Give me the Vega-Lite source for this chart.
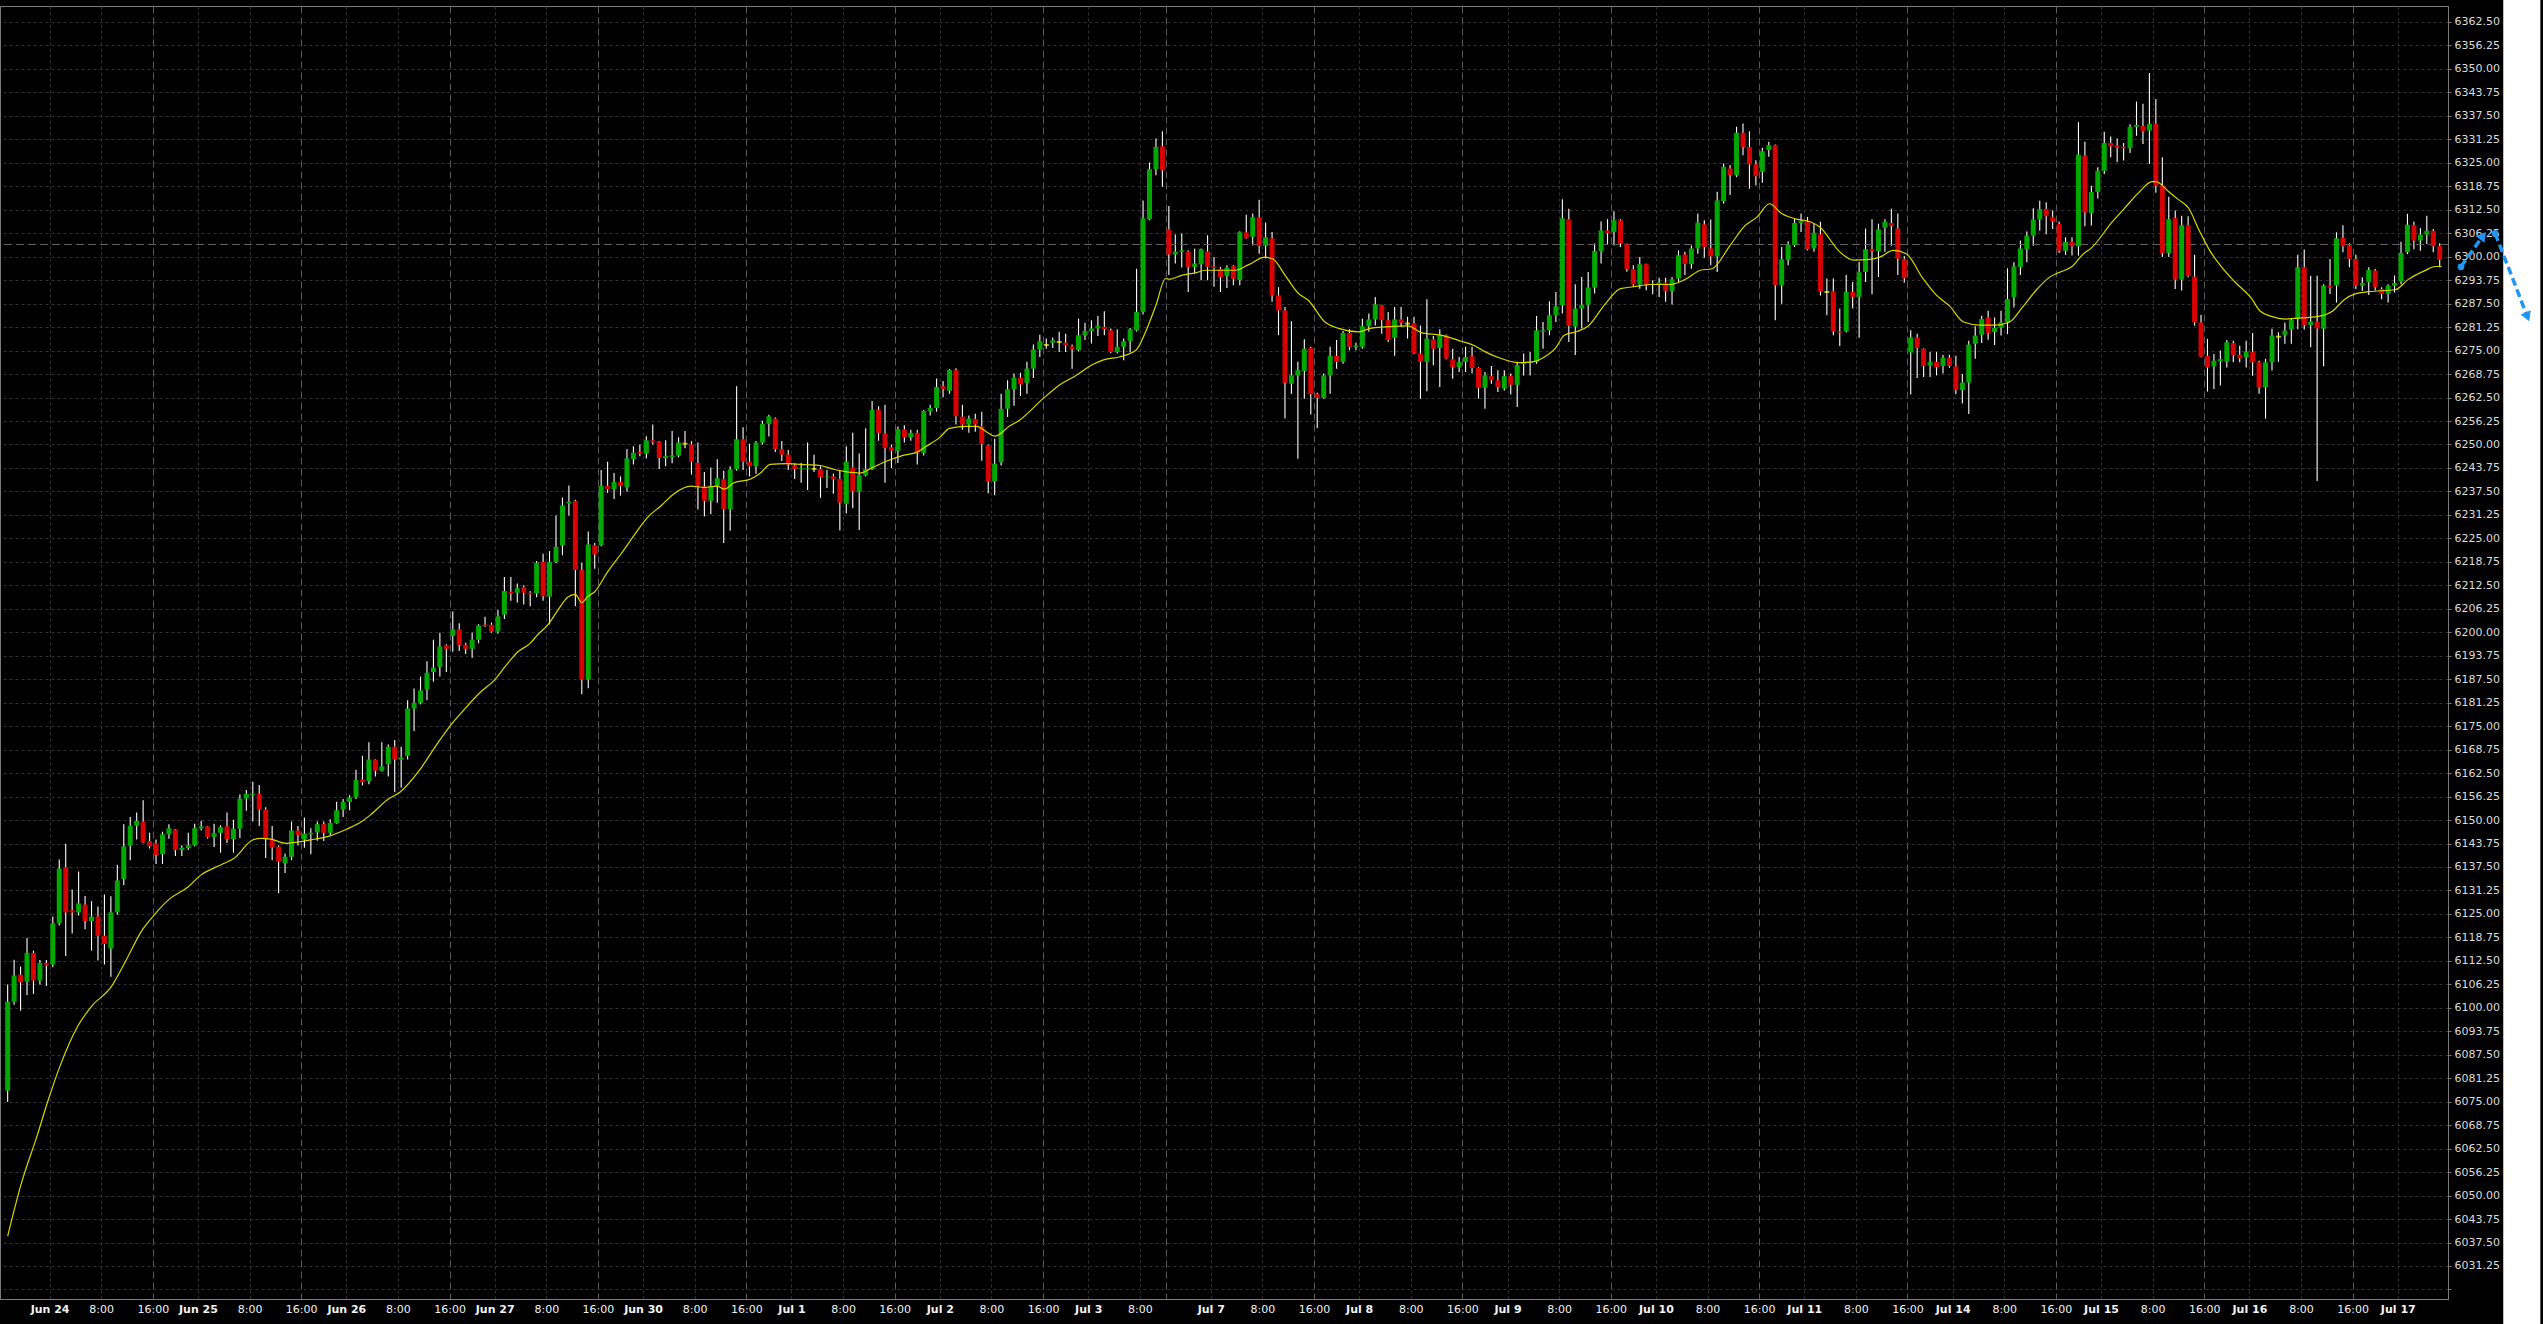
{
"$schema":"https://vega.github.io/schema/vega-lite/v6.json",
"width":2448,"height":1293,
"autosize":{"type":"none"},
"padding":{"left":0,"top":6,"right":95,"bottom":25},
"background":"#000000",
"config":{"view":{"stroke":"#7c7c7c","strokeWidth":1,"fill":"#000000"},"axis":{"labelOverlap":false}},
"datasets":{
"candles":[
{"i":0,"o":6077.9,"h":6106.2,"l":6074.9,"c":6101.6},{"i":1,"o":6101.6,"h":6112.8,"l":6100.8,"c":6108.6},{"i":2,"o":6108.8,"h":6111.0,"l":6099.2,"c":6106.8},{"i":3,"o":6107.0,"h":6118.6,"l":6103.4,"c":6114.6},{"i":4,"o":6114.6,"h":6115.2,"l":6103.7,"c":6107.3},{"i":5,"o":6107.3,"h":6112.7,"l":6106.2,"c":6111.9},{"i":6,"o":6111.9,"h":6112.7,"l":6105.8,"c":6111.3},{"i":7,"o":6111.5,"h":6124.3,"l":6110.8,"c":6122.5},{"i":8,"o":6122.5,"h":6139.5,"l":6121.9,"c":6137.1},{"i":9,"o":6137.4,"h":6143.7,"l":6113.8,"c":6125.4},
{"i":10,"o":6126.0,"h":6131.5,"l":6119.8,"c":6125.4},{"i":11,"o":6125.4,"h":6136.3,"l":6124.6,"c":6127.8},{"i":12,"o":6127.5,"h":6129.8,"l":6120.9,"c":6123.1},{"i":13,"o":6123.1,"h":6128.4,"l":6115.2,"c":6124.3},{"i":14,"o":6124.3,"h":6127.0,"l":6112.6,"c":6119.2},{"i":15,"o":6119.2,"h":6130.2,"l":6111.5,"c":6117.0},{"i":16,"o":6115.8,"h":6129.7,"l":6108.3,"c":6125.4},{"i":17,"o":6125.4,"h":6138.1,"l":6124.8,"c":6133.9},{"i":18,"o":6134.3,"h":6148.9,"l":6132.7,"c":6143.0},{"i":19,"o":6143.2,"h":6150.8,"l":6139.3,"c":6148.5},
{"i":20,"o":6148.5,"h":6152.0,"l":6144.8,"c":6149.8},{"i":21,"o":6149.6,"h":6155.3,"l":6143.8,"c":6144.0},{"i":22,"o":6144.4,"h":6146.6,"l":6142.4,"c":6143.0},{"i":23,"o":6143.8,"h":6144.8,"l":6138.3,"c":6140.7},{"i":24,"o":6140.9,"h":6146.9,"l":6138.3,"c":6146.2},{"i":25,"o":6146.2,"h":6148.9,"l":6145.0,"c":6147.8},{"i":26,"o":6147.5,"h":6147.6,"l":6140.4,"c":6142.0},{"i":27,"o":6142.0,"h":6143.3,"l":6140.4,"c":6142.6},{"i":28,"o":6142.5,"h":6146.6,"l":6142.0,"c":6143.3},{"i":29,"o":6143.3,"h":6149.0,"l":6143.0,"c":6147.8},
{"i":30,"o":6147.8,"h":6149.8,"l":6147.2,"c":6148.3},{"i":31,"o":6148.3,"h":6148.4,"l":6145.1,"c":6145.4},{"i":32,"o":6145.5,"h":6149.0,"l":6142.8,"c":6146.5},{"i":33,"o":6146.6,"h":6148.6,"l":6141.3,"c":6148.1},{"i":34,"o":6148.3,"h":6152.0,"l":6143.9,"c":6144.9},{"i":35,"o":6144.9,"h":6150.1,"l":6141.3,"c":6147.7},{"i":36,"o":6147.7,"h":6156.8,"l":6145.2,"c":6155.7},{"i":37,"o":6155.7,"h":6158.0,"l":6152.5,"c":6157.0},{"i":38,"o":6156.7,"h":6160.2,"l":6149.6,"c":6157.0},{"i":39,"o":6157.0,"h":6159.3,"l":6148.4,"c":6152.8},
{"i":40,"o":6152.8,"h":6153.4,"l":6139.9,"c":6145.0},{"i":41,"o":6145.0,"h":6148.4,"l":6139.3,"c":6142.7},{"i":42,"o":6142.9,"h":6143.3,"l":6130.5,"c":6138.9},{"i":43,"o":6138.5,"h":6141.1,"l":6135.9,"c":6140.2},{"i":44,"o":6140.2,"h":6149.6,"l":6139.3,"c":6147.2},{"i":45,"o":6147.2,"h":6148.4,"l":6143.2,"c":6146.0},{"i":46,"o":6144.8,"h":6150.7,"l":6142.6,"c":6146.4},{"i":47,"o":6146.2,"h":6147.8,"l":6140.9,"c":6146.6},{"i":48,"o":6146.7,"h":6149.6,"l":6144.5,"c":6148.9},{"i":49,"o":6148.9,"h":6149.6,"l":6144.4,"c":6146.6},
{"i":50,"o":6146.6,"h":6150.2,"l":6146.0,"c":6149.2},{"i":51,"o":6149.2,"h":6154.9,"l":6149.0,"c":6152.6},{"i":52,"o":6152.8,"h":6155.6,"l":6150.8,"c":6154.8},{"i":53,"o":6154.8,"h":6156.6,"l":6152.6,"c":6156.0},{"i":54,"o":6156.1,"h":6163.4,"l":6155.6,"c":6160.7},{"i":55,"o":6160.8,"h":6167.1,"l":6159.2,"c":6160.1},{"i":56,"o":6160.4,"h":6170.7,"l":6159.5,"c":6166.1},{"i":57,"o":6166.1,"h":6166.2,"l":6161.6,"c":6163.1},{"i":58,"o":6163.1,"h":6170.7,"l":6162.9,"c":6164.3},{"i":59,"o":6164.9,"h":6170.1,"l":6161.6,"c":6169.5},
{"i":60,"o":6169.5,"h":6171.3,"l":6157.4,"c":6166.1},{"i":61,"o":6166.1,"h":6169.5,"l":6158.6,"c":6166.6},{"i":62,"o":6167.1,"h":6181.9,"l":6166.1,"c":6179.7},{"i":63,"o":6179.7,"h":6185.0,"l":6173.7,"c":6181.2},{"i":64,"o":6181.2,"h":6188.2,"l":6180.8,"c":6184.5},{"i":65,"o":6184.8,"h":6192.3,"l":6181.9,"c":6189.2},{"i":66,"o":6189.4,"h":6198.0,"l":6186.9,"c":6190.6},{"i":67,"o":6190.8,"h":6199.9,"l":6188.2,"c":6196.2},{"i":68,"o":6196.5,"h":6196.8,"l":6189.4,"c":6195.6},{"i":69,"o":6199.0,"h":6205.5,"l":6194.8,"c":6200.8},
{"i":70,"o":6200.8,"h":6202.4,"l":6195.0,"c":6196.6},{"i":71,"o":6196.7,"h":6197.2,"l":6194.2,"c":6195.6},{"i":72,"o":6195.6,"h":6199.9,"l":6193.2,"c":6198.0},{"i":73,"o":6198.0,"h":6202.1,"l":6197.1,"c":6201.8},{"i":74,"o":6202.0,"h":6204.1,"l":6201.4,"c":6201.6},{"i":75,"o":6202.0,"h":6202.6,"l":6199.9,"c":6200.2},{"i":76,"o":6200.2,"h":6205.9,"l":6199.6,"c":6204.2},{"i":77,"o":6204.7,"h":6214.7,"l":6203.5,"c":6211.0},{"i":78,"o":6210.8,"h":6214.7,"l":6208.4,"c":6210.3},{"i":79,"o":6210.5,"h":6213.0,"l":6207.9,"c":6211.7},
{"i":80,"o":6212.0,"h":6212.5,"l":6207.4,"c":6210.5},{"i":81,"o":6210.5,"h":6211.0,"l":6206.9,"c":6210.1},{"i":82,"o":6210.3,"h":6219.0,"l":6209.3,"c":6218.5},{"i":83,"o":6218.7,"h":6220.9,"l":6208.4,"c":6209.6},{"i":84,"o":6209.5,"h":6221.6,"l":6202.1,"c":6218.7},{"i":85,"o":6218.7,"h":6231.1,"l":6218.4,"c":6222.7},{"i":86,"o":6223.1,"h":6235.9,"l":6220.5,"c":6233.8},{"i":87,"o":6234.3,"h":6239.1,"l":6231.1,"c":6234.8},{"i":88,"o":6235.0,"h":6235.3,"l":6206.9,"c":6216.6},{"i":89,"o":6216.6,"h":6218.5,"l":6183.5,"c":6187.4},
{"i":90,"o":6187.4,"h":6226.8,"l":6185.1,"c":6223.4},{"i":91,"o":6223.2,"h":6223.8,"l":6216.9,"c":6220.7},{"i":92,"o":6223.2,"h":6243.2,"l":6222.9,"c":6239.0},{"i":93,"o":6239.0,"h":6245.4,"l":6237.1,"c":6238.1},{"i":94,"o":6238.1,"h":6242.4,"l":6235.5,"c":6240.0},{"i":95,"o":6240.0,"h":6241.5,"l":6236.4,"c":6239.0},{"i":96,"o":6238.6,"h":6248.8,"l":6237.4,"c":6246.3},{"i":97,"o":6246.1,"h":6249.5,"l":6244.7,"c":6247.8},{"i":98,"o":6248.0,"h":6250.0,"l":6246.9,"c":6247.6},{"i":99,"o":6247.6,"h":6252.2,"l":6246.3,"c":6251.1},
{"i":100,"o":6251.1,"h":6255.3,"l":6250.0,"c":6250.6},{"i":101,"o":6250.8,"h":6250.9,"l":6243.5,"c":6246.4},{"i":102,"o":6246.4,"h":6251.1,"l":6244.2,"c":6246.9},{"i":103,"o":6246.6,"h":6253.6,"l":6245.0,"c":6247.1},{"i":104,"o":6247.1,"h":6251.9,"l":6246.6,"c":6250.5},{"i":105,"o":6250.2,"h":6253.6,"l":6249.0,"c":6250.2},{"i":106,"o":6250.0,"h":6250.9,"l":6242.0,"c":6245.4},{"i":107,"o":6245.1,"h":6250.5,"l":6232.7,"c":6239.0},{"i":108,"o":6238.8,"h":6242.7,"l":6230.8,"c":6235.0},{"i":109,"o":6235.0,"h":6243.9,"l":6231.4,"c":6239.0},
{"i":110,"o":6239.0,"h":6246.1,"l":6234.5,"c":6241.0},{"i":111,"o":6240.8,"h":6243.0,"l":6223.8,"c":6232.8},{"i":112,"o":6232.8,"h":6244.2,"l":6227.0,"c":6243.4},{"i":113,"o":6243.4,"h":6265.5,"l":6243.0,"c":6251.4},{"i":114,"o":6251.4,"h":6254.6,"l":6243.2,"c":6245.4},{"i":115,"o":6245.4,"h":6250.2,"l":6241.5,"c":6244.2},{"i":116,"o":6244.2,"h":6250.9,"l":6242.2,"c":6250.5},{"i":117,"o":6250.5,"h":6256.3,"l":6250.0,"c":6255.5},{"i":118,"o":6255.5,"h":6257.9,"l":6252.1,"c":6257.5},{"i":119,"o":6256.9,"h":6257.2,"l":6248.0,"c":6248.8},
{"i":120,"o":6248.8,"h":6250.9,"l":6245.6,"c":6247.3},{"i":121,"o":6247.3,"h":6248.5,"l":6243.2,"c":6244.7},{"i":122,"o":6244.4,"h":6245.0,"l":6240.8,"c":6243.5},{"i":123,"o":6243.4,"h":6245.1,"l":6239.8,"c":6243.7},{"i":124,"o":6243.4,"h":6250.5,"l":6237.9,"c":6243.7},{"i":125,"o":6243.5,"h":6247.3,"l":6242.7,"c":6243.5},{"i":126,"o":6243.5,"h":6244.2,"l":6235.8,"c":6241.3},{"i":127,"o":6241.3,"h":6243.2,"l":6238.4,"c":6241.5},{"i":128,"o":6241.5,"h":6242.2,"l":6236.9,"c":6240.8},{"i":129,"o":6240.8,"h":6243.2,"l":6227.1,"c":6234.5},
{"i":130,"o":6234.2,"h":6249.5,"l":6231.6,"c":6245.4},{"i":131,"o":6243.9,"h":6253.1,"l":6233.0,"c":6237.6},{"i":132,"o":6237.4,"h":6247.6,"l":6227.2,"c":6241.8},{"i":133,"o":6241.8,"h":6254.3,"l":6241.5,"c":6243.4},{"i":134,"o":6243.4,"h":6261.6,"l":6243.2,"c":6259.2},{"i":135,"o":6259.2,"h":6260.2,"l":6251.0,"c":6253.1},{"i":136,"o":6252.9,"h":6260.6,"l":6239.8,"c":6249.0},{"i":137,"o":6249.3,"h":6250.0,"l":6243.7,"c":6248.3},{"i":138,"o":6248.3,"h":6254.8,"l":6245.1,"c":6254.1},{"i":139,"o":6254.0,"h":6255.1,"l":6250.5,"c":6251.9},
{"i":140,"o":6251.9,"h":6253.9,"l":6251.0,"c":6253.1},{"i":141,"o":6253.1,"h":6253.9,"l":6244.7,"c":6247.8},{"i":142,"o":6247.8,"h":6259.2,"l":6247.1,"c":6258.9},{"i":143,"o":6258.9,"h":6260.6,"l":6257.7,"c":6259.7},{"i":144,"o":6259.7,"h":6267.6,"l":6258.7,"c":6265.3},{"i":145,"o":6265.5,"h":6266.9,"l":6262.6,"c":6264.8},{"i":146,"o":6264.3,"h":6270.1,"l":6263.5,"c":6269.8},{"i":147,"o":6269.8,"h":6270.3,"l":6255.3,"c":6257.5},{"i":148,"o":6257.4,"h":6260.6,"l":6253.9,"c":6255.3},{"i":149,"o":6255.3,"h":6257.7,"l":6253.1,"c":6256.9},
{"i":150,"o":6256.8,"h":6258.2,"l":6253.4,"c":6255.3},{"i":151,"o":6254.8,"h":6258.7,"l":6245.7,"c":6250.1},{"i":152,"o":6249.8,"h":6250.0,"l":6237.0,"c":6240.2},{"i":153,"o":6240.2,"h":6251.5,"l":6236.5,"c":6244.9},{"i":154,"o":6245.3,"h":6263.5,"l":6244.4,"c":6259.5},{"i":155,"o":6259.5,"h":6267.1,"l":6257.3,"c":6264.7},{"i":156,"o":6264.7,"h":6268.9,"l":6260.3,"c":6267.8},{"i":157,"o":6267.8,"h":6269.1,"l":6262.9,"c":6266.0},{"i":158,"o":6266.4,"h":6272.0,"l":6263.5,"c":6270.2},{"i":159,"o":6270.2,"h":6276.6,"l":6267.7,"c":6275.3},
{"i":160,"o":6275.3,"h":6279.2,"l":6273.3,"c":6277.5},{"i":161,"o":6276.5,"h":6278.2,"l":6275.5,"c":6276.5},{"i":162,"o":6277.1,"h":6278.5,"l":6275.7,"c":6277.7},{"i":163,"o":6277.3,"h":6280.0,"l":6274.6,"c":6277.3},{"i":164,"o":6277.1,"h":6279.5,"l":6274.6,"c":6276.4},{"i":165,"o":6276.1,"h":6276.6,"l":6270.2,"c":6275.4},{"i":166,"o":6275.1,"h":6283.5,"l":6274.8,"c":6279.1},{"i":167,"o":6279.1,"h":6282.4,"l":6277.8,"c":6280.2},{"i":168,"o":6280.2,"h":6283.1,"l":6276.9,"c":6280.9},{"i":169,"o":6280.9,"h":6284.2,"l":6278.9,"c":6281.6},
{"i":170,"o":6281.3,"h":6285.5,"l":6279.1,"c":6280.7},{"i":171,"o":6280.4,"h":6280.9,"l":6274.3,"c":6274.6},{"i":172,"o":6274.6,"h":6280.7,"l":6274.2,"c":6276.0},{"i":173,"o":6276.0,"h":6278.2,"l":6272.4,"c":6277.5},{"i":174,"o":6277.5,"h":6281.0,"l":6274.5,"c":6280.7},{"i":175,"o":6280.4,"h":6296.8,"l":6280.1,"c":6285.3},{"i":176,"o":6285.3,"h":6315.0,"l":6284.6,"c":6310.2},{"i":177,"o":6310.0,"h":6325.1,"l":6309.7,"c":6323.3},{"i":178,"o":6323.3,"h":6331.5,"l":6321.7,"c":6329.2},{"i":179,"o":6329.4,"h":6333.4,"l":6318.6,"c":6323.0},
{"i":180,"o":6307.3,"h":6313.5,"l":6295.1,"c":6300.6},{"i":181,"o":6300.6,"h":6305.9,"l":6298.2,"c":6301.3},{"i":182,"o":6301.3,"h":6306.2,"l":6297.1,"c":6301.7},{"i":183,"o":6301.4,"h":6301.7,"l":6290.6,"c":6297.3},{"i":184,"o":6297.3,"h":6302.1,"l":6295.5,"c":6298.2},{"i":185,"o":6298.0,"h":6302.2,"l":6293.7,"c":6302.0},{"i":186,"o":6301.4,"h":6305.7,"l":6293.7,"c":6297.3},{"i":187,"o":6297.4,"h":6299.9,"l":6292.0,"c":6297.0},{"i":188,"o":6296.8,"h":6297.3,"l":6290.6,"c":6294.6},{"i":189,"o":6294.9,"h":6297.7,"l":6291.7,"c":6297.1},
{"i":190,"o":6297.5,"h":6297.7,"l":6292.4,"c":6294.1},{"i":191,"o":6293.8,"h":6306.8,"l":6292.4,"c":6306.5},{"i":192,"o":6306.5,"h":6311.2,"l":6304.8,"c":6304.9},{"i":193,"o":6305.3,"h":6311.5,"l":6303.0,"c":6310.5},{"i":194,"o":6310.5,"h":6315.2,"l":6300.8,"c":6302.9},{"i":195,"o":6302.9,"h":6309.1,"l":6299.5,"c":6305.2},{"i":196,"o":6304.9,"h":6306.6,"l":6288.0,"c":6289.7},{"i":197,"o":6289.7,"h":6291.9,"l":6279.1,"c":6285.7},{"i":198,"o":6285.7,"h":6286.6,"l":6256.9,"c":6266.4},{"i":199,"o":6266.2,"h":6282.8,"l":6263.5,"c":6268.4},
{"i":200,"o":6268.4,"h":6272.0,"l":6246.2,"c":6269.8},{"i":201,"o":6269.6,"h":6278.0,"l":6262.2,"c":6275.5},{"i":202,"o":6275.7,"h":6276.0,"l":6258.0,"c":6263.4},{"i":203,"o":6263.4,"h":6263.8,"l":6254.4,"c":6262.4},{"i":204,"o":6262.4,"h":6268.9,"l":6262.2,"c":6268.4},{"i":205,"o":6268.4,"h":6276.0,"l":6263.5,"c":6273.6},{"i":206,"o":6273.6,"h":6277.8,"l":6270.2,"c":6272.0},{"i":207,"o":6272.0,"h":6280.2,"l":6271.5,"c":6279.7},{"i":208,"o":6279.7,"h":6280.7,"l":6275.1,"c":6276.0},{"i":209,"o":6276.0,"h":6277.1,"l":6275.1,"c":6276.4},
{"i":210,"o":6276.0,"h":6283.5,"l":6275.5,"c":6281.5},{"i":211,"o":6281.5,"h":6284.9,"l":6280.0,"c":6283.3},{"i":212,"o":6283.3,"h":6289.3,"l":6281.7,"c":6287.3},{"i":213,"o":6287.1,"h":6287.2,"l":6279.5,"c":6283.1},{"i":214,"o":6283.1,"h":6285.3,"l":6277.3,"c":6277.8},{"i":215,"o":6278.4,"h":6286.6,"l":6273.6,"c":6283.3},{"i":216,"o":6283.3,"h":6286.6,"l":6281.3,"c":6282.4},{"i":217,"o":6282.2,"h":6284.0,"l":6278.2,"c":6282.2},{"i":218,"o":6282.3,"h":6284.0,"l":6274.0,"c":6274.2},{"i":219,"o":6274.2,"h":6281.7,"l":6262.2,"c":6272.0},
{"i":220,"o":6272.0,"h":6288.7,"l":6264.2,"c":6278.2},{"i":221,"o":6278.0,"h":6278.9,"l":6271.1,"c":6275.5},{"i":222,"o":6275.7,"h":6280.7,"l":6265.3,"c":6279.1},{"i":223,"o":6279.1,"h":6279.3,"l":6272.7,"c":6272.9},{"i":224,"o":6272.7,"h":6275.5,"l":6267.5,"c":6270.6},{"i":225,"o":6270.6,"h":6273.3,"l":6269.3,"c":6272.0},{"i":226,"o":6272.0,"h":6276.0,"l":6269.3,"c":6273.3},{"i":227,"o":6273.5,"h":6276.0,"l":6268.9,"c":6270.4},{"i":228,"o":6270.4,"h":6270.6,"l":6262.2,"c":6265.1},{"i":229,"o":6265.1,"h":6269.3,"l":6259.5,"c":6268.4},
{"i":230,"o":6268.2,"h":6270.9,"l":6266.2,"c":6267.1},{"i":231,"o":6267.1,"h":6269.8,"l":6264.0,"c":6265.3},{"i":232,"o":6264.9,"h":6269.8,"l":6264.4,"c":6268.2},{"i":233,"o":6268.2,"h":6268.9,"l":6263.3,"c":6265.9},{"i":234,"o":6265.9,"h":6272.0,"l":6260.0,"c":6271.1},{"i":235,"o":6271.4,"h":6274.2,"l":6268.4,"c":6271.8},{"i":236,"o":6271.7,"h":6274.6,"l":6268.4,"c":6272.0},{"i":237,"o":6272.0,"h":6284.2,"l":6271.5,"c":6280.4},{"i":238,"o":6280.0,"h":6282.6,"l":6275.5,"c":6280.4},{"i":239,"o":6280.4,"h":6288.1,"l":6279.1,"c":6284.4},
{"i":240,"o":6284.4,"h":6290.6,"l":6282.6,"c":6286.8},{"i":241,"o":6287.1,"h":6315.3,"l":6284.9,"c":6310.2},{"i":242,"o":6310.0,"h":6312.8,"l":6277.3,"c":6281.6},{"i":243,"o":6281.4,"h":6292.7,"l":6273.8,"c":6286.2},{"i":244,"o":6286.2,"h":6294.6,"l":6280.9,"c":6287.2},{"i":245,"o":6287.2,"h":6295.9,"l":6282.6,"c":6291.8},{"i":246,"o":6291.8,"h":6303.5,"l":6290.2,"c":6301.5},{"i":247,"o":6301.5,"h":6309.4,"l":6298.2,"c":6307.0},{"i":248,"o":6307.0,"h":6310.0,"l":6303.1,"c":6306.3},{"i":249,"o":6306.6,"h":6312.1,"l":6303.0,"c":6309.7},
{"i":250,"o":6309.7,"h":6310.0,"l":6302.6,"c":6303.5},{"i":251,"o":6303.3,"h":6303.5,"l":6296.0,"c":6296.7},{"i":252,"o":6296.7,"h":6297.7,"l":6292.0,"c":6292.6},{"i":253,"o":6292.6,"h":6299.9,"l":6291.5,"c":6298.0},{"i":254,"o":6298.0,"h":6298.1,"l":6291.1,"c":6292.6},{"i":255,"o":6292.8,"h":6293.7,"l":6290.0,"c":6292.6},{"i":256,"o":6292.6,"h":6294.4,"l":6289.3,"c":6293.1},{"i":257,"o":6293.1,"h":6294.4,"l":6288.0,"c":6290.9},{"i":258,"o":6290.9,"h":6294.6,"l":6287.3,"c":6294.0},{"i":259,"o":6294.2,"h":6301.7,"l":6293.3,"c":6300.4},
{"i":260,"o":6300.6,"h":6301.3,"l":6295.1,"c":6298.0},{"i":261,"o":6298.0,"h":6303.0,"l":6296.8,"c":6302.2},{"i":262,"o":6302.2,"h":6311.5,"l":6300.8,"c":6309.1},{"i":263,"o":6308.6,"h":6309.7,"l":6299.7,"c":6302.6},{"i":264,"o":6302.2,"h":6309.9,"l":6297.7,"c":6300.1},{"i":265,"o":6300.1,"h":6317.3,"l":6295.9,"c":6315.0},{"i":266,"o":6314.8,"h":6324.8,"l":6314.1,"c":6323.9},{"i":267,"o":6323.5,"h":6324.4,"l":6316.4,"c":6321.7},{"i":268,"o":6321.7,"h":6334.6,"l":6321.2,"c":6333.0},{"i":269,"o":6333.0,"h":6335.5,"l":6327.0,"c":6329.2},
{"i":270,"o":6329.2,"h":6333.4,"l":6318.1,"c":6324.6},{"i":271,"o":6324.6,"h":6325.7,"l":6319.0,"c":6321.4},{"i":272,"o":6322.6,"h":6329.0,"l":6319.7,"c":6328.1},{"i":273,"o":6328.4,"h":6330.6,"l":6326.6,"c":6329.7},{"i":274,"o":6329.7,"h":6329.9,"l":6283.1,"c":6292.4},{"i":275,"o":6292.4,"h":6302.6,"l":6287.5,"c":6299.3},{"i":276,"o":6299.1,"h":6304.1,"l":6297.7,"c":6303.2},{"i":277,"o":6303.2,"h":6310.2,"l":6302.6,"c":6309.0},{"i":278,"o":6309.0,"h":6311.5,"l":6306.6,"c":6309.5},{"i":279,"o":6309.3,"h":6310.6,"l":6301.7,"c":6302.0},
{"i":280,"o":6302.2,"h":6308.8,"l":6301.3,"c":6306.4},{"i":281,"o":6306.0,"h":6309.3,"l":6289.7,"c":6290.8},{"i":282,"o":6290.6,"h":6294.2,"l":6284.4,"c":6290.6},{"i":283,"o":6290.8,"h":6294.2,"l":6279.1,"c":6280.1},{"i":284,"o":6280.1,"h":6286.2,"l":6276.2,"c":6279.8},{"i":285,"o":6280.1,"h":6295.1,"l":6279.8,"c":6290.6},{"i":286,"o":6290.6,"h":6293.3,"l":6286.2,"c":6289.3},{"i":287,"o":6289.3,"h":6298.6,"l":6278.4,"c":6295.8},{"i":288,"o":6295.9,"h":6307.5,"l":6293.3,"c":6302.0},{"i":289,"o":6302.0,"h":6310.0,"l":6290.0,"c":6301.5},
{"i":290,"o":6301.5,"h":6308.8,"l":6294.6,"c":6307.3},{"i":291,"o":6307.7,"h":6310.0,"l":6301.3,"c":6309.3},{"i":292,"o":6309.0,"h":6312.8,"l":6302.9,"c":6308.2},{"i":293,"o":6307.5,"h":6311.5,"l":6295.1,"c":6299.5},{"i":294,"o":6299.3,"h":6300.2,"l":6293.1,"c":6294.3},{"i":295,"o":6274.5,"h":6280.4,"l":6263.3,"c":6278.5},{"i":296,"o":6278.5,"h":6279.5,"l":6267.7,"c":6275.7},{"i":297,"o":6275.5,"h":6275.6,"l":6268.0,"c":6270.9},{"i":298,"o":6271.0,"h":6274.6,"l":6268.0,"c":6272.0},{"i":299,"o":6272.0,"h":6274.6,"l":6268.4,"c":6270.6},
{"i":300,"o":6270.9,"h":6273.8,"l":6268.9,"c":6273.1},{"i":301,"o":6273.1,"h":6273.9,"l":6270.4,"c":6270.9},{"i":302,"o":6270.8,"h":6273.6,"l":6263.4,"c":6264.5},{"i":303,"o":6264.5,"h":6268.8,"l":6260.9,"c":6266.5},{"i":304,"o":6266.5,"h":6277.6,"l":6258.1,"c":6276.6},{"i":305,"o":6276.8,"h":6281.5,"l":6272.8,"c":6279.0},{"i":306,"o":6279.2,"h":6284.3,"l":6277.0,"c":6283.4},{"i":307,"o":6283.8,"h":6285.6,"l":6277.9,"c":6279.7},{"i":308,"o":6279.9,"h":6283.8,"l":6276.5,"c":6281.1},{"i":309,"o":6281.1,"h":6285.6,"l":6279.0,"c":6282.5},
{"i":310,"o":6282.5,"h":6296.9,"l":6279.4,"c":6288.7},{"i":311,"o":6289.2,"h":6298.5,"l":6286.5,"c":6297.4},{"i":312,"o":6297.2,"h":6304.3,"l":6295.1,"c":6302.2},{"i":313,"o":6302.0,"h":6306.7,"l":6298.5,"c":6305.6},{"i":314,"o":6305.6,"h":6312.9,"l":6302.9,"c":6309.9},{"i":315,"o":6309.9,"h":6314.9,"l":6306.9,"c":6312.7},{"i":316,"o":6312.7,"h":6314.5,"l":6306.0,"c":6310.8},{"i":317,"o":6310.6,"h":6312.3,"l":6307.4,"c":6309.4},{"i":318,"o":6308.7,"h":6309.4,"l":6301.0,"c":6301.6},{"i":319,"o":6301.6,"h":6305.2,"l":6300.5,"c":6304.0},
{"i":320,"o":6304.0,"h":6305.2,"l":6300.3,"c":6302.8},{"i":321,"o":6302.8,"h":6335.8,"l":6300.3,"c":6327.2},{"i":322,"o":6326.9,"h":6330.6,"l":6308.1,"c":6311.8},{"i":323,"o":6311.6,"h":6318.9,"l":6308.3,"c":6317.2},{"i":324,"o":6317.2,"h":6323.8,"l":6315.5,"c":6322.9},{"i":325,"o":6322.9,"h":6333.3,"l":6322.0,"c":6330.3},{"i":326,"o":6330.3,"h":6332.0,"l":6326.5,"c":6329.4},{"i":327,"o":6329.6,"h":6331.5,"l":6325.2,"c":6329.1},{"i":328,"o":6329.3,"h":6330.3,"l":6325.6,"c":6328.9},{"i":329,"o":6328.9,"h":6335.3,"l":6327.6,"c":6334.6},
{"i":330,"o":6334.6,"h":6341.3,"l":6332.2,"c":6335.1},{"i":331,"o":6334.8,"h":6340.7,"l":6330.0,"c":6333.4},{"i":332,"o":6333.6,"h":6348.9,"l":6324.7,"c":6335.4},{"i":333,"o":6335.4,"h":6342.0,"l":6317.0,"c":6318.9},{"i":334,"o":6318.9,"h":6326.5,"l":6299.9,"c":6301.0},{"i":335,"o":6301.0,"h":6316.0,"l":6299.9,"c":6310.0},{"i":336,"o":6310.3,"h":6312.3,"l":6291.4,"c":6293.9},{"i":337,"o":6293.9,"h":6310.9,"l":6291.0,"c":6308.4},{"i":338,"o":6308.4,"h":6310.8,"l":6294.5,"c":6294.9},{"i":339,"o":6294.7,"h":6300.5,"l":6281.6,"c":6282.5},
{"i":340,"o":6282.5,"h":6284.5,"l":6273.2,"c":6273.4},{"i":341,"o":6273.6,"h":6278.1,"l":6264.1,"c":6270.5},{"i":342,"o":6270.8,"h":6274.1,"l":6264.8,"c":6272.3},{"i":343,"o":6272.2,"h":6275.0,"l":6265.7,"c":6272.7},{"i":344,"o":6272.0,"h":6277.8,"l":6270.5,"c":6277.2},{"i":345,"o":6277.0,"h":6277.6,"l":6271.9,"c":6273.8},{"i":346,"o":6273.9,"h":6276.3,"l":6271.9,"c":6272.9},{"i":347,"o":6273.2,"h":6277.6,"l":6270.5,"c":6274.7},{"i":348,"o":6274.7,"h":6279.7,"l":6268.3,"c":6271.9},{"i":349,"o":6271.9,"h":6272.3,"l":6263.5,"c":6265.2},
{"i":350,"o":6265.2,"h":6272.8,"l":6256.9,"c":6271.9},{"i":351,"o":6271.9,"h":6280.8,"l":6269.7,"c":6279.0},{"i":352,"o":6278.7,"h":6279.9,"l":6272.0,"c":6278.7},{"i":353,"o":6279.2,"h":6282.5,"l":6276.8,"c":6280.3},{"i":354,"o":6280.6,"h":6283.4,"l":6276.8,"c":6283.1},{"i":355,"o":6283.4,"h":6300.5,"l":6280.7,"c":6297.2},{"i":356,"o":6297.2,"h":6301.9,"l":6280.6,"c":6281.8},{"i":357,"o":6281.8,"h":6294.9,"l":6275.9,"c":6282.7},{"i":358,"o":6282.7,"h":6294.9,"l":6240.3,"c":6280.9},{"i":359,"o":6280.8,"h":6292.7,"l":6270.8,"c":6292.3},
{"i":360,"o":6292.3,"h":6299.4,"l":6290.1,"c":6291.8},{"i":361,"o":6292.3,"h":6306.5,"l":6287.8,"c":6304.9},{"i":362,"o":6305.0,"h":6308.4,"l":6301.2,"c":6302.8},{"i":363,"o":6303.0,"h":6303.6,"l":6297.2,"c":6299.4},{"i":364,"o":6299.4,"h":6300.5,"l":6291.4,"c":6292.3},{"i":365,"o":6292.3,"h":6294.5,"l":6290.9,"c":6293.0},{"i":366,"o":6293.2,"h":6297.2,"l":6289.8,"c":6296.5},{"i":367,"o":6296.3,"h":6296.7,"l":6291.0,"c":6291.9},{"i":368,"o":6291.4,"h":6291.9,"l":6288.7,"c":6290.1},{"i":369,"o":6290.1,"h":6292.7,"l":6287.8,"c":6292.3},
{"i":370,"o":6292.3,"h":6295.0,"l":6290.5,"c":6293.0},{"i":371,"o":6293.4,"h":6304.0,"l":6292.7,"c":6301.0},{"i":372,"o":6301.2,"h":6311.4,"l":6300.7,"c":6308.5},{"i":373,"o":6308.4,"h":6309.3,"l":6302.0,"c":6304.3},{"i":374,"o":6304.3,"h":6307.6,"l":6301.6,"c":6305.9},{"i":375,"o":6305.9,"h":6310.9,"l":6303.4,"c":6306.9},{"i":376,"o":6306.9,"h":6307.4,"l":6301.2,"c":6302.8},{"i":377,"o":6302.9,"h":6303.6,"l":6297.2,"c":6299.2}
],
"ma":[
{"i":0,"v":6039.2},{"i":2.1,"v":6053.1},{"i":4.6,"v":6066.1},{"i":6.3,"v":6075.5},{"i":8.1,"v":6084.4},{"i":10.9,"v":6095.2},{"i":13.0,"v":6100.4},{"i":16.1,"v":6105.7},{"i":18.1,"v":6111.8},{"i":20.9,"v":6120.8},{"i":22.5,"v":6124.3},{"i":25.1,"v":6129.0},{"i":27.9,"v":6132.1},{"i":30.0,"v":6135.4},{"i":33.1,"v":6138.1},{"i":35.1,"v":6139.8},{"i":37.9,"v":6144.6},{"i":39.2,"v":6145.1},{"i":40.8,"v":6144.9},{"i":43.1,"v":6143.8},{"i":46.9,"v":6144.7},{"i":50.0,"v":6145.8},{"i":52.6,"v":6147.6},{"i":54.7,"v":6149.4},{"i":56.2,"v":6151.3},{"i":59.0,"v":6155.6},{"i":60.8,"v":6157.4},{"i":63.9,"v":6163.4},{"i":66.5,"v":6170.1},{"i":68.6,"v":6175.1},{"i":70.6,"v":6179.1},{"i":73.2,"v":6183.9},{"i":75.3,"v":6187.0},{"i":77.6,"v":6191.9},{"i":79.1,"v":6194.8},{"i":80.9,"v":6196.9},{"i":82.2,"v":6199.4},{"i":83.8,"v":6202.1},{"i":85.3,"v":6205.9},{"i":86.8,"v":6209.3},{"i":88.0,"v":6210.1},{"i":89.0,"v":6207.9},{"i":89.9,"v":6209.5},{"i":91.0,"v":6210.8},{"i":93.0,"v":6216.1},{"i":95.1,"v":6220.9},{"i":97.1,"v":6225.8},{"i":99.2,"v":6230.6},{"i":101.3,"v":6233.7},{"i":103.3,"v":6236.9},{"i":105.9,"v":6238.9},{"i":108.0,"v":6238.6},{"i":110.0,"v":6238.9},{"i":111.1,"v":6238.1},{"i":112.6,"v":6239.8},{"i":115.2,"v":6240.8},{"i":116.7,"v":6242.4},{"i":118.2,"v":6244.7},{"i":120.8,"v":6244.9},{"i":123.9,"v":6244.6},{"i":126.0,"v":6244.4},{"i":128.0,"v":6243.4},{"i":130.1,"v":6242.7},{"i":132.1,"v":6242.4},{"i":134.2,"v":6244.0},{"i":136.3,"v":6245.6},{"i":138.8,"v":6247.1},{"i":140.9,"v":6247.9},{"i":142.4,"v":6249.5},{"i":144.5,"v":6251.9},{"i":146.0,"v":6254.3},{"i":148.6,"v":6254.8},{"i":150.2,"v":6254.8},{"i":151.7,"v":6253.4},{"i":153.0,"v":6252.2},{"i":155.3,"v":6254.9},{"i":156.8,"v":6256.4},{"i":160.5,"v":6262.2},{"i":163.0,"v":6265.8},{"i":165.6,"v":6268.4},{"i":168.2,"v":6271.3},{"i":170.0,"v":6272.6},{"i":172.3,"v":6273.3},{"i":174.9,"v":6275.1},{"i":176.4,"v":6280.0},{"i":178.0,"v":6287.1},{"i":179.5,"v":6294.2},{"i":180.0,"v":6294.0},{"i":182.1,"v":6295.1},{"i":184.1,"v":6295.7},{"i":185.7,"v":6296.4},{"i":188.3,"v":6296.4},{"i":190.3,"v":6296.4},{"i":192.4,"v":6297.9},{"i":194.9,"v":6299.9},{"i":196.2,"v":6299.3},{"i":198.0,"v":6295.1},{"i":200.1,"v":6290.2},{"i":201.6,"v":6288.4},{"i":204.2,"v":6282.6},{"i":206.3,"v":6280.9},{"i":209.4,"v":6280.0},{"i":211.4,"v":6281.0},{"i":213.5,"v":6281.3},{"i":217.1,"v":6281.6},{"i":219.1,"v":6279.8},{"i":222.2,"v":6279.1},{"i":225.3,"v":6277.5},{"i":227.4,"v":6276.3},{"i":228.9,"v":6274.8},{"i":231.5,"v":6272.9},{"i":234.1,"v":6271.8},{"i":236.4,"v":6272.0},{"i":238.2,"v":6273.3},{"i":240.0,"v":6275.8},{"i":241.3,"v":6279.1},{"i":243.3,"v":6280.1},{"i":245.1,"v":6281.7},{"i":247.5,"v":6287.1},{"i":250.0,"v":6291.5},{"i":252.1,"v":6292.0},{"i":254.7,"v":6292.6},{"i":257.8,"v":6292.6},{"i":260.3,"v":6294.2},{"i":262.4,"v":6296.4},{"i":264.2,"v":6296.8},{"i":267.0,"v":6303.0},{"i":269.1,"v":6307.9},{"i":271.2,"v":6310.6},{"i":273.1,"v":6314.1},{"i":275.0,"v":6311.5},{"i":277.3,"v":6310.0},{"i":279.4,"v":6309.3},{"i":280.9,"v":6307.9},{"i":284.0,"v":6301.3},{"i":286.1,"v":6299.1},{"i":288.7,"v":6299.3},{"i":290.2,"v":6299.9},{"i":292.3,"v":6301.7},{"i":294.3,"v":6300.8},{"i":296.9,"v":6294.2},{"i":298.9,"v":6289.9},{"i":301.0,"v":6286.9},{"i":303.2,"v":6282.6},{"i":305.6,"v":6281.8},{"i":308.2,"v":6281.8},{"i":310.3,"v":6282.6},{"i":312.3,"v":6286.5},{"i":314.4,"v":6291.0},{"i":316.5,"v":6294.5},{"i":318.0,"v":6295.8},{"i":320.0,"v":6297.4},{"i":321.6,"v":6300.5},{"i":323.1,"v":6302.5},{"i":326.2,"v":6309.2},{"i":328.3,"v":6313.2},{"i":330.4,"v":6317.2},{"i":332.4,"v":6320.0},{"i":333.0,"v":6320.0},{"i":335.0,"v":6317.3},{"i":336.5,"v":6315.2},{"i":338.1,"v":6312.9},{"i":339.6,"v":6307.4},{"i":341.2,"v":6302.1},{"i":343.2,"v":6297.2},{"i":345.3,"v":6293.2},{"i":347.9,"v":6288.7},{"i":349.1,"v":6285.6},{"i":350.9,"v":6284.1},{"i":353.0,"v":6283.4},{"i":354.6,"v":6283.6},{"i":358.2,"v":6284.1},{"i":360.3,"v":6285.4},{"i":362.3,"v":6288.7},{"i":363.9,"v":6290.1},{"i":366.0,"v":6290.7},{"i":370.1,"v":6291.2},{"i":372.1,"v":6293.9},{"i":374.7,"v":6296.3},{"i":376.3,"v":6297.4},{"i":377.3,"v":6297.4}
],
"levels":[{"p":6303.25}],
"pane":[{"i0":386.85,"i1":392.6,"v0":6368.6,"v1":6015.5}],
"arrow":[{"seg":"a","i":380.3,"v":6297.3},{"seg":"a","i":383.7,"v":6305.6},{"seg":"b","i":385.6,"v":6306.2},{"seg":"b","i":390.6,"v":6284.0}]
},
"layer":[
{"data":{"name":"candles"},"mark":{"type":"rule","color":"#ffffff","strokeWidth":1.1},
 "encoding":{
  "x":{"field":"i","type":"quantitative","title":null,"scale":{"domain":[-0.412,377.51],"nice":false,"zero":false},
   "axis":{"orient":"bottom","title":null,"tickCount":500,
    "values":[6.5,14.5,22.5,29.5,37.5,45.5,52.5,60.5,68.5,75.5,83.5,91.5,98.5,106.5,114.5,121.5,129.5,137.5,144.5,152.5,160.5,167.5,175.5,179.5,186.5,194.5,202.5,209.5,217.5,225.5,232.5,240.5,248.5,255.5,263.5,271.5,278.5,286.5,294.5,301.5,309.5,317.5,324.5,332.5,340.5,347.5,355.5,363.5,370.5],
    "labelExpr":"['Jun 24','8:00','16:00','Jun 25','8:00','16:00','Jun 26','8:00','16:00','Jun 27','8:00','16:00','Jun 30','8:00','16:00','Jul 1','8:00','16:00','Jul 2','8:00','16:00','Jul 3','8:00','','Jul 7','8:00','16:00','Jul 8','8:00','16:00','Jul 9','8:00','16:00','Jul 10','8:00','16:00','Jul 11','8:00','16:00','Jul 14','8:00','16:00','Jul 15','8:00','16:00','Jul 16','8:00','16:00','Jul 17'][indexof([6.5,14.5,22.5,29.5,37.5,45.5,52.5,60.5,68.5,75.5,83.5,91.5,98.5,106.5,114.5,121.5,129.5,137.5,144.5,152.5,160.5,167.5,175.5,179.5,186.5,194.5,202.5,209.5,217.5,225.5,232.5,240.5,248.5,255.5,263.5,271.5,278.5,286.5,294.5,301.5,309.5,317.5,324.5,332.5,340.5,347.5,355.5,363.5,370.5], datum.value)]",
    "labelOverlap":false,"labelFlush":false,"labelFont":"DejaVu Sans","labelFontSize":11,"labelColor":"#f2f2f2","labelPadding":4,
    "labelFontWeight":{"condition":{"test":"indexof([6.5,29.5,52.5,75.5,98.5,121.5,144.5,167.5,186.5,209.5,232.5,255.5,278.5,301.5,324.5,347.5,370.5], datum.value) >= 0","value":"bold"},"value":"normal"},
    "ticks":false,"domain":true,"domainColor":"#7c7c7c",
    "grid":true,
    "gridColor":{"condition":{"test":"indexof([22.5,45.5,68.5,91.5,114.5,137.5,160.5,179.5,202.5,225.5,248.5,271.5,294.5,317.5,340.5,363.5], datum.value) >= 0","value":"#5a5a5a"},"value":"#333333"},
    "gridDash":{"condition":{"test":"indexof([22.5,45.5,68.5,91.5,114.5,137.5,160.5,179.5,202.5,225.5,248.5,271.5,294.5,317.5,340.5,363.5], datum.value) >= 0","value":[7,4]},"value":[3,3]},
    "gridWidth":1}},
  "y":{"field":"l","type":"quantitative","title":null,"scale":{"domain":[6022.46,6366.76],"nice":false,"zero":false},
   "axis":{"orient":"right","title":null,"tickCount":500,
    "values":[6025,6031.25,6037.5,6043.75,6050,6056.25,6062.5,6068.75,6075,6081.25,6087.5,6093.75,6100,6106.25,6112.5,6118.75,6125,6131.25,6137.5,6143.75,6150,6156.25,6162.5,6168.75,6175,6181.25,6187.5,6193.75,6200,6206.25,6212.5,6218.75,6225,6231.25,6237.5,6243.75,6250,6256.25,6262.5,6268.75,6275,6281.25,6287.5,6293.75,6300,6306.25,6312.5,6318.75,6325,6331.25,6337.5,6343.75,6350,6356.25,6362.5],
    "labelExpr":"datum.value < 6030 ? '' : format(datum.value, '.2f')",
    "labelFont":"DejaVu Sans","labelFontSize":11,"labelColor":"#dcdcdc","labelPadding":3,"labelOverlap":false,"labelFlush":false,
    "ticks":true,"tickSize":3,"tickColor":"#7c7c7c","domain":true,"domainColor":"#7c7c7c",
    "grid":true,"gridColor":"#333333","gridDash":[3,3],"gridWidth":1}},
  "y2":{"field":"h"}}},
{"data":{"name":"levels"},"mark":{"type":"rule","color":"#606060","strokeWidth":1,"strokeDash":[8,4]},
 "encoding":{"y":{"field":"p","type":"quantitative","title":null}}},
{"data":{"name":"candles"},"transform":[{"filter":"datum.o != datum.c"}],
 "mark":{"type":"bar","width":5},
 "encoding":{
  "x":{"field":"i","type":"quantitative","title":null},
  "y":{"field":"o","type":"quantitative","title":null},
  "y2":{"field":"c"},
  "color":{"condition":{"test":"datum.c > datum.o","value":"#00a800"},"value":"#d80000"}}},
{"data":{"name":"candles"},"transform":[{"filter":"datum.o == datum.c"}],
 "mark":{"type":"tick","orient":"horizontal","size":5,"thickness":2,"color":"#ffff00"},
 "encoding":{
  "x":{"field":"i","type":"quantitative","title":null},
  "y":{"field":"o","type":"quantitative","title":null}}},
{"data":{"name":"ma"},"mark":{"type":"line","color":"#d8d800","strokeWidth":1.2,"interpolate":"monotone"},
 "encoding":{
  "x":{"field":"i","type":"quantitative","title":null},
  "y":{"field":"v","type":"quantitative","title":null}}},
{"data":{"name":"pane"},"mark":{"type":"bar","color":"#ffffff","opacity":1,"clip":false},
 "encoding":{
  "x":{"field":"i0","type":"quantitative","title":null},
  "x2":{"field":"i1"},
  "y":{"field":"v0","type":"quantitative","title":null},
  "y2":{"field":"v1"}}},
{"data":{"name":"arrow"},"mark":{"type":"line","color":"#2196f3","strokeWidth":3.5,"strokeDash":[8,4],"clip":false},
 "encoding":{
  "x":{"field":"i","type":"quantitative","title":null},
  "y":{"field":"v","type":"quantitative","title":null},
  "detail":{"field":"seg"}}},
{"data":{"name":"arrow"},"transform":[{"window":[{"op":"row_number","as":"rn"}],"groupby":["seg"]},{"filter":"datum.rn == 1"}],
 "mark":{"type":"point","shape":"circle","filled":true,"size":45,"color":"#2196f3","opacity":1,"clip":false},
 "encoding":{
  "x":{"field":"i","type":"quantitative","title":null},
  "y":{"field":"v","type":"quantitative","title":null}}},
{"data":{"name":"arrow"},"transform":[{"filter":"datum.seg == 'a' && datum.i > 381"}],
 "mark":{"type":"point","shape":"triangle-up","filled":true,"size":120,"angle":37,"color":"#2196f3","opacity":1,"clip":false},
 "encoding":{
  "x":{"field":"i","type":"quantitative","title":null},
  "y":{"field":"v","type":"quantitative","title":null}}},
{"data":{"name":"arrow"},"transform":[{"filter":"datum.seg == 'b' && datum.i > 386"}],
 "mark":{"type":"point","shape":"triangle-up","filled":true,"size":120,"angle":158,"color":"#2196f3","opacity":1,"clip":false},
 "encoding":{
  "x":{"field":"i","type":"quantitative","title":null},
  "y":{"field":"v","type":"quantitative","title":null}}}
]
}
